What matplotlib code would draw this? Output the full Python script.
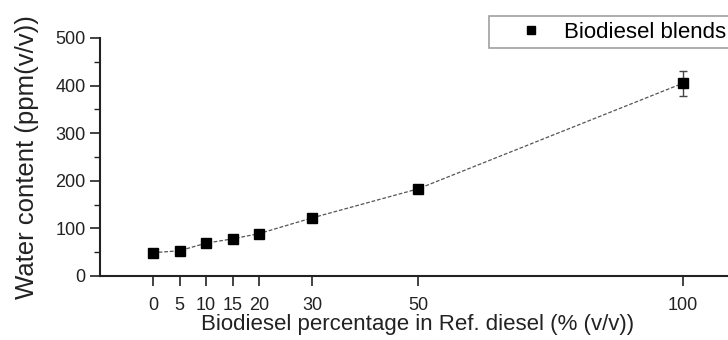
import matplotlib.pyplot as plt
from matplotlib.ticker import MultipleLocator
from matplotlib.lines import Line2D

# biodiesel percentage and measured water content
blend = [0, 5, 10, 15, 20, 30, 50, 100]
water = [49, 53, 69, 78, 89, 122, 183, 405]
water_err = [3, 3, 3, 3, 3, 4, 5, 26]

plt.rcParams['font.family'] = ['Liberation Sans', 'DejaVu Sans']

fig = plt.figure(figsize=(7.28, 3.4), dpi=100)
ax = fig.add_axes([100 / 728, 64 / 340, 636 / 728, 238 / 340])

ax.errorbar(blend, water, yerr=water_err, fmt='s', color='black', ms=7,
            ecolor='#444444', elinewidth=1, capsize=3, zorder=3)
ax.plot(blend, water, linestyle=(0, (3, 1.5)), color='#555555', lw=0.9, zorder=2)

ax.set_xlim(-10, 110)
ax.set_ylim(0, 500)
ax.set_xticks(blend)
ax.yaxis.set_major_locator(MultipleLocator(100))
ax.yaxis.set_minor_locator(MultipleLocator(50))

for s in ['top', 'right']:
    ax.spines[s].set_visible(False)
for s in ['left', 'bottom']:
    ax.spines[s].set_linewidth(1.5)
    ax.spines[s].set_color('#222222')

ax.tick_params(axis='both', which='major', length=7, width=1.2, labelsize=13, colors='#222222')
ax.tick_params(axis='y', which='minor', length=4, width=1.0, colors='#222222')
ax.tick_params(axis='x', pad=8)

ax.set_xlabel('Biodiesel percentage in Ref. diesel (% (v/v))', fontsize=16, color='#222222', labelpad=0)
ax.set_ylabel('Water content (ppm(v/v))', fontsize=18.5, color='#222222', labelpad=12)

handle = Line2D([], [], linestyle='none', marker='s', color='black', ms=6)
leg = ax.legend([handle], ['Biodiesel blends'], loc='upper left',
                bbox_to_anchor=(389 / 636, 1.092), borderaxespad=0, fontsize=16,
                frameon=True, fancybox=False, handlelength=3.3, handletextpad=-0.16,
                borderpad=0.25)
leg.get_frame().set_edgecolor('#888888')
leg.get_frame().set_linewidth(1.2)

fig.savefig('out.png', dpi=100)
